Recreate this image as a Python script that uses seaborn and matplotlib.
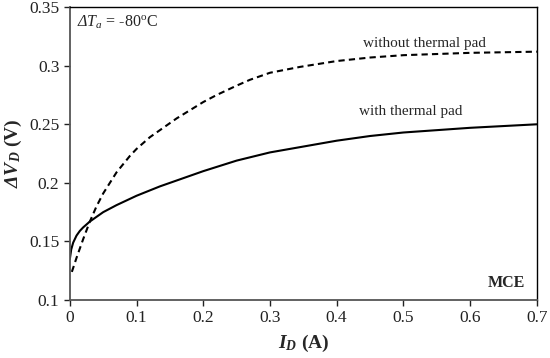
import matplotlib
matplotlib.use("Agg")
from matplotlib import pyplot as plt
import pandas as pd
import seaborn as sns

# without thermal pad (dashed)
x_without = [0.003, 0.01, 0.02, 0.03, 0.04, 0.05, 0.06, 0.07, 0.08, 0.09, 0.1, 0.12, 0.14,
             0.16, 0.18, 0.2, 0.22, 0.25, 0.27, 0.3, 0.345, 0.4, 0.45, 0.5, 0.55, 0.6, 0.65, 0.7]
y_without = [0.124, 0.136, 0.152, 0.167, 0.18, 0.191, 0.2, 0.209, 0.216, 0.223, 0.229, 0.239, 0.247,
             0.255, 0.262, 0.269, 0.275, 0.283, 0.288, 0.294, 0.299, 0.304, 0.307, 0.309, 0.31, 0.311, 0.3115, 0.312]

# with thermal pad (solid)
x_with = [0.0, 0.002, 0.005, 0.01, 0.015, 0.02, 0.03, 0.04, 0.05, 0.06, 0.07, 0.085, 0.1,
          0.135, 0.165, 0.2, 0.25, 0.3, 0.35, 0.4, 0.45, 0.5, 0.55, 0.6, 0.65, 0.7]
y_with = [0.135, 0.143, 0.149, 0.155, 0.159, 0.162, 0.167, 0.171, 0.175, 0.178, 0.181, 0.185, 0.189,
          0.197, 0.203, 0.21, 0.219, 0.226, 0.231, 0.236, 0.24, 0.243, 0.245, 0.247, 0.2485, 0.25]

xticks = [0, 0.1, 0.2, 0.3, 0.4, 0.5, 0.6, 0.7]
xtick_labels = ["0", "0.1", "0.2", "0.3", "0.4", "0.5", "0.6", "0.7"]
yticks = [0.1, 0.15, 0.2, 0.25, 0.3, 0.35]
ytick_labels = ["0.1", "0.15", "0.2", "0.25", "0.3", "0.35"]

df = pd.concat([
    pd.DataFrame({"I": x_without, "V": y_without, "pad": "without"}),
    pd.DataFrame({"I": x_with, "V": y_with, "pad": "with"}),
])

sns.set_style("ticks")
plt.rcParams["font.family"] = ["Liberation Serif", "DejaVu Serif"]
plt.rcParams["mathtext.fontset"] = "custom"
plt.rcParams["mathtext.rm"] = "Liberation Serif"
plt.rcParams["mathtext.it"] = "Liberation Serif:italic"
plt.rcParams["mathtext.sf"] = "Liberation Serif:italic"  # used for the italic Delta
plt.rcParams["mathtext.bf"] = "Liberation Serif:bold"
plt.rcParams["mathtext.bfit"] = "Liberation Serif:bold:italic"

fig = plt.figure(figsize=(5.5, 3.58), dpi=100)
ax = fig.add_axes([0.127, 0.162, 0.849, 0.818])

sns.lineplot(data=df, x="I", y="V", style="pad", style_order=["with", "without"],
             dashes={"with": "", "without": (3, 2)}, color="black", linewidth=1.5,
             legend=False, ax=ax, sort=False)

ax.set_xlim(0, 0.7)
ax.set_ylim(0.1, 0.35)
ax.set_xticks(xticks)
ax.set_xticklabels(xtick_labels)
ax.set_yticks(yticks)
ax.set_yticklabels(ytick_labels)
ax.tick_params(direction="out", length=4, width=1, labelsize=12.5, colors="#222222")
for side in ["left", "bottom"]:
    ax.spines[side].set_color("#555555")
    ax.spines[side].set_linewidth(1.3)
for side in ["top", "right"]:
    ax.spines[side].set_color("black")
    ax.spines[side].set_linewidth(1.0)

ax.set_xlabel(r"$\mathbfit{I}_{\mathbfit{D}}$ $\mathbf{(A)}$", fontsize=14, labelpad=5)
ax.set_ylabel(r"$\mathbfit{ΔV}_{\mathbfit{D}}$ $\mathbf{(V)}$", fontsize=14, labelpad=4)

ax.text(0.011, 0.337, r"$\mathsf{ΔT}_{\mathsf{a}}$ = -80$^{\rm o}$C", fontsize=11.5, va="center")
ax.text(0.531, 0.319, "without thermal pad", fontsize=11, ha="center", va="center")
ax.text(0.511, 0.261, "with thermal pad", fontsize=11, ha="center", va="center")
ax.text(0.683, 0.1145, "MCE", fontsize=11.5, fontweight="bold", ha="right", va="center")

fig.savefig("out.png", dpi=100)
